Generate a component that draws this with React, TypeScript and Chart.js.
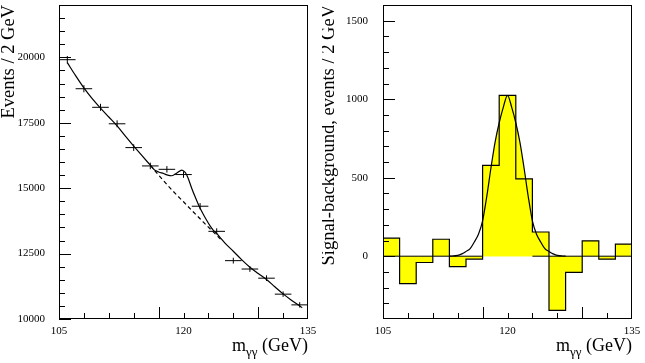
import React, { useEffect, useRef } from 'react';
import { Chart, registerables } from 'chart.js';

Chart.register(...registerables);

// ---------- Left panel: events per 2 GeV ----------
const massBinCenters = [106, 108, 110, 112, 114, 116, 118, 120, 122, 124, 126, 128, 130, 132, 134];
const eventCounts = [19910, 18800, 18090, 17460, 16550, 15850, 15720, 15520, 14310, 13350, 12230, 11910, 11560, 10950, 10540];
const eventErrors = [141, 137, 134, 132, 129, 126, 125, 125, 120, 116, 111, 109, 108, 105, 103];
const halfBinWidth = 1;

// background-only fit (dashed)
const bgMass = [116, 116.5, 117, 118, 119, 120, 121, 122, 123, 124, 124.5];
const bgEvents = [15880, 15690, 15500, 15140, 14800, 14480, 14150, 13830, 13510, 13200, 13040];

// signal + background fit (solid)
const fitMass = [106, 107, 108, 109, 110, 111, 112, 113, 114, 115, 116, 116.5, 117, 117.6, 118, 118.6, 119.2, 119.8, 120.2, 120.5, 121, 121.4, 121.9, 122.3, 122.7, 123.2, 123.6, 124, 124.5, 125, 126, 127, 128, 129, 130, 131, 132, 133, 134, 134.3];
const fitEvents = [19800, 19300, 18830, 18420, 18060, 17720, 17380, 16990, 16610, 16240, 15880, 15700, 15620, 15560, 15510, 15475, 15580, 15690, 15600, 15430, 14990, 14670, 14300, 14050, 13820, 13560, 13390, 13270, 13080, 12900, 12590, 12270, 11980, 11740, 11510, 11230, 10960, 10720, 10500, 10430];

// ---------- Right panel: signal - background ----------
const binLowEdges = [105, 107, 109, 111, 113, 115, 117, 119, 121, 123, 125, 127, 129, 131, 133];
const binUpperEdge = 135;
const signalMinusBg = [115, -175, -40, 108, -66, -18, 578, 1025, 493, 154, -345, -103, 98, -19, 77];

const gaussMass = [113, 114, 114.5, 115, 115.5, 116, 116.5, 117, 117.5, 118, 118.5, 119, 119.5, 120, 120.5, 121, 121.5, 122, 122.5, 123, 123.5, 124, 124.5, 125, 125.5, 126, 127];
const gaussFit = [0, 5, 15, 30, 48, 90, 140, 225, 380, 560, 725, 850, 950, 1025, 950, 850, 725, 560, 380, 225, 140, 90, 48, 30, 15, 5, 0];
const gaussFillRange = [117, 123];

// ---------- axes ----------
const massRange = [105, 135];
const massTickLabels = [105, 120, 135];
const massMinorTicks = [108, 111, 114, 117, 120, 123, 126, 129, 132];
const massLongTicks = [117, 129];

const eventsRange = [10000, 22000];
const eventsTickLabels = [10000, 12500, 15000, 17500, 20000];
const eventsMinorTicks = [10500, 11000, 11500, 12000, 13000, 13500, 14000, 14500, 15500, 16000, 16500, 17000, 18000, 18500, 19000, 19500, 20500, 21000, 21500];

const diffRange = [-400, 1600];
const diffTickLabels = [0, 500, 1000, 1500];
const diffMinorTicks = [-300, -200, -100, 100, 200, 300, 400, 600, 700, 800, 900, 1100, 1200, 1300, 1400];

const YELLOW = '#ffff00';
const SERIF = '"Liberation Serif", "Times New Roman", serif';

const frameTicksPlugin = {
  id: 'frameTicks',
  afterDatasetsDraw(chart: any, _args: any, opts: any) {
    const { ctx, chartArea, scales } = chart;
    const { left, right, top, bottom } = chartArea;
    const x = scales.x;
    const y = scales.y;
    ctx.save();
    ctx.strokeStyle = '#000';
    ctx.lineWidth = 1;
    ctx.beginPath();
    for (const v of opts.xTicks) {
      const px = Math.round(x.getPixelForValue(v)) + 0.5;
      const len = opts.xLong.includes(v) ? 12 : 6;
      ctx.moveTo(px, Math.round(bottom));
      ctx.lineTo(px, Math.round(bottom) - len);
    }
    for (const v of opts.yMajor) {
      const py = Math.round(y.getPixelForValue(v)) + 0.5;
      ctx.moveTo(Math.round(left), py);
      ctx.lineTo(Math.round(left) + 12, py);
    }
    for (const v of opts.yMinor) {
      const py = Math.round(y.getPixelForValue(v)) + 0.5;
      ctx.moveTo(Math.round(left), py);
      ctx.lineTo(Math.round(left) + 6, py);
    }
    ctx.stroke();
    ctx.strokeRect(Math.round(left) + 0.5, Math.round(top) + 0.5, Math.round(right - left) - 1, Math.round(bottom - top) - 1);
    ctx.restore();
  },
};

function makeScales(yMin: number, yMax: number, yLabels: number[], yTitle: string, yWidth: number, titleLineHeight: number, yPad: number) {
  return {
    x: {
      type: 'linear',
      min: massRange[0],
      max: massRange[1],
      grid: { display: false, drawTicks: false },
      border: { display: false },
      afterBuildTicks: (s: any) => { s.ticks = massTickLabels.map((v) => ({ value: v })); },
      afterFit: (s: any) => { s.height = 44; s.paddingLeft = 0; s.paddingRight = 0; },
      ticks: {
        color: '#000',
        font: { family: SERIF, size: 11 },
        padding: 6,
        maxRotation: 0,
        autoSkip: false,
        callback: (v: any) => String(v),
      },
    },
    y: {
      type: 'linear',
      min: yMin,
      max: yMax,
      grid: { display: false, drawTicks: false },
      border: { display: false },
      afterBuildTicks: (s: any) => { s.ticks = yLabels.map((v) => ({ value: v })); },
      afterFit: (s: any) => { s.width = yWidth; s.paddingTop = 0; s.paddingBottom = 0; },
      ticks: {
        color: '#000',
        font: { family: SERIF, size: 11 },
        padding: yPad,
        autoSkip: false,
        callback: (v: any) => String(v),
      },
      title: {
        display: true,
        text: yTitle,
        align: 'end',
        color: '#000',
        font: { family: SERIF, size: 18.5, lineHeight: titleLineHeight },
        padding: 0,
      },
    },
  };
}

function LeftChart() {
  const ref = useRef<HTMLCanvasElement>(null);
  useEffect(() => {
    if (!ref.current) return;
    const hBars: any[] = [];
    const vBars: any[] = [];
    massBinCenters.forEach((m, i) => {
      hBars.push({ x: m - halfBinWidth, y: eventCounts[i] }, { x: m + halfBinWidth, y: eventCounts[i] }, { x: m + halfBinWidth, y: null });
      vBars.push({ x: m, y: eventCounts[i] - eventErrors[i] }, { x: m, y: eventCounts[i] + eventErrors[i] }, { x: m, y: null });
    });
    const chart = new Chart(ref.current, {
      type: 'line',
      data: {
        datasets: [
          { data: hBars, borderColor: '#000', borderWidth: 1, pointRadius: 0, spanGaps: false, fill: false, order: 1 },
          { data: vBars, borderColor: '#000', borderWidth: 1, pointRadius: 0, spanGaps: false, fill: false, order: 1 },
          { data: fitMass.map((m, i) => ({ x: m, y: fitEvents[i] })), borderColor: '#000', borderWidth: 1.2, pointRadius: 0, cubicInterpolationMode: 'monotone', fill: false, order: 2 },
          { data: bgMass.map((m, i) => ({ x: m, y: bgEvents[i] })), borderColor: '#000', borderWidth: 1.2, borderDash: [4, 3], pointRadius: 0, cubicInterpolationMode: 'monotone', fill: false, order: 3 },
        ],
      },
      options: {
        animation: false,
        responsive: false,
        events: [],
        layout: { padding: { left: 0, top: 5, right: 14, bottom: 0 } },
        scales: makeScales(eventsRange[0], eventsRange[1], eventsTickLabels, 'Events / 2 GeV', 59, 1, 14) as any,
        plugins: {
          legend: { display: false },
          tooltip: { enabled: false },
          frameTicks: { xTicks: massMinorTicks, xLong: massLongTicks, yMajor: eventsTickLabels, yMinor: eventsMinorTicks },
        } as any,
      },
      plugins: [frameTicksPlugin],
    } as any);
    return () => chart.destroy();
  }, []);
  return <canvas ref={ref} width={322} height={363} style={{ position: 'absolute', left: 0, top: 0 }} />;
}

function RightChart() {
  const ref = useRef<HTMLCanvasElement>(null);
  useEffect(() => {
    if (!ref.current) return;
    const histPts = binLowEdges.map((e, i) => ({ x: e, y: signalMinusBg[i] }));
    histPts.push({ x: binUpperEdge, y: signalMinusBg[signalMinusBg.length - 1] });
    const gaussPts = gaussMass.map((m, i) => ({ x: m, y: gaussFit[i] }));
    const gaussFillPts = gaussPts.filter((p) => p.x >= gaussFillRange[0] && p.x <= gaussFillRange[1]);
    const zeroLine = [
      { x: massRange[0], y: 0 }, { x: gaussFillRange[0], y: 0 }, { x: gaussFillRange[0], y: null },
      { x: gaussFillRange[1], y: 0 }, { x: massRange[1], y: 0 },
    ];
    const chart = new Chart(ref.current, {
      type: 'line',
      data: {
        datasets: [
          { data: histPts, stepped: true, borderWidth: 0, borderColor: 'rgba(0,0,0,0)', backgroundColor: YELLOW, fill: 'origin', pointRadius: 0, order: 5 },
          { data: gaussFillPts, borderWidth: 0, borderColor: 'rgba(0,0,0,0)', backgroundColor: YELLOW, fill: 'origin', pointRadius: 0, cubicInterpolationMode: 'monotone', order: 4 },
          { data: zeroLine, borderColor: '#000', borderWidth: 1, pointRadius: 0, spanGaps: false, fill: false, order: 3 },
          { data: histPts, stepped: true, borderColor: '#000', borderWidth: 1.2, fill: false, pointRadius: 0, order: 2 },
          { data: gaussPts, borderColor: '#000', borderWidth: 1.2, fill: false, pointRadius: 0, cubicInterpolationMode: 'monotone', order: 1 },
        ],
      },
      options: {
        animation: false,
        responsive: false,
        events: [],
        layout: { padding: { left: 0, top: 5, right: 13, bottom: 0 } },
        scales: makeScales(diffRange[0], diffRange[1], diffTickLabels, 'Signal-background, events / 2 GeV', 61, 0.76, 15) as any,
        plugins: {
          legend: { display: false },
          tooltip: { enabled: false },
          frameTicks: { xTicks: massMinorTicks, xLong: massLongTicks, yMajor: diffTickLabels, yMinor: diffMinorTicks },
        } as any,
      },
      plugins: [frameTicksPlugin],
    } as any);
    return () => chart.destroy();
  }, []);
  return <canvas ref={ref} width={323} height={363} style={{ position: 'absolute', left: 322, top: 0 }} />;
}

function MassTitle({ right }: { right: number }) {
  return (
    <div
      style={{
        position: 'absolute',
        left: 0,
        width: right,
        top: 336,
        textAlign: 'right',
        fontFamily: SERIF,
        fontSize: 18,
        lineHeight: '18px',
        whiteSpace: 'nowrap',
        color: '#000',
      }}
    >
      m<span style={{ fontSize: 13, position: 'relative', top: 5 }}>γγ</span> (GeV)
    </div>
  );
}

export default function App() {
  return (
    <div style={{ position: 'fixed', left: 0, top: 0, width: 645, height: 363, background: '#fff', overflow: 'hidden' }}>
      <LeftChart />
      <RightChart />
      <MassTitle right={308} />
      <MassTitle right={632} />
    </div>
  );
}
